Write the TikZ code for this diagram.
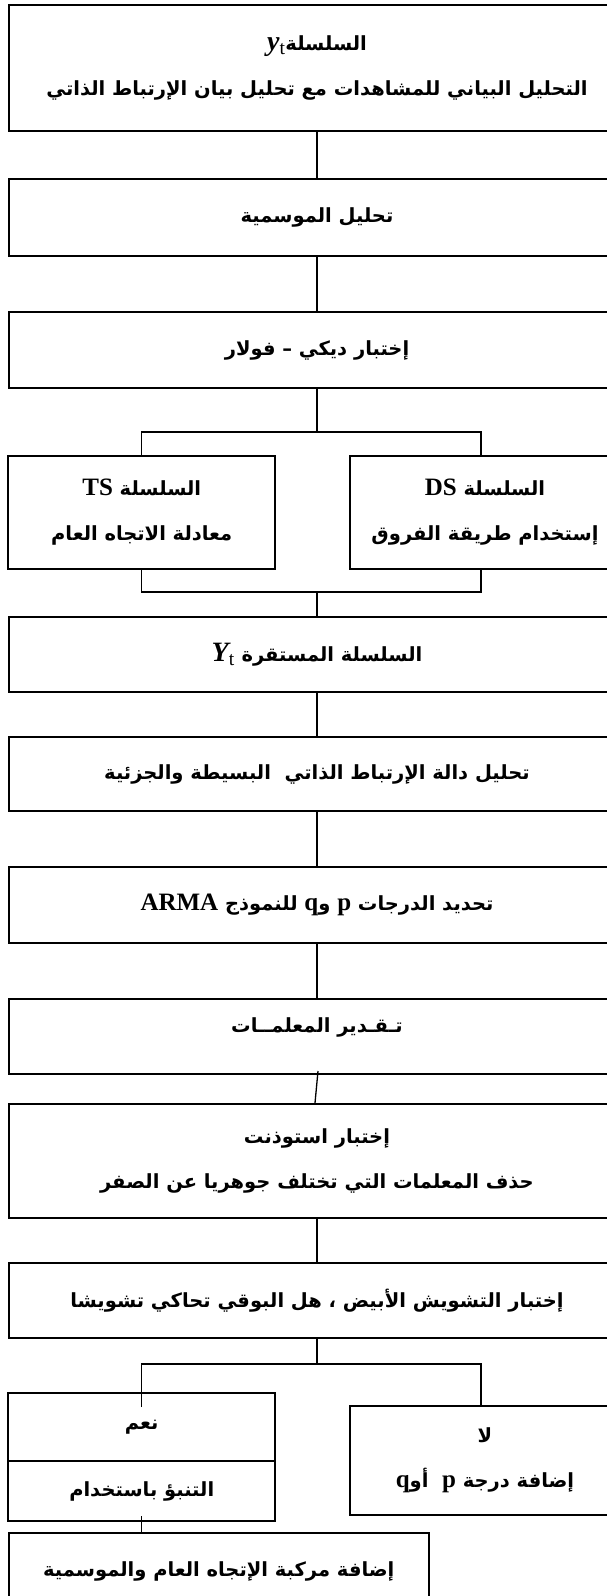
\documentclass[tikz,border=0pt]{standalone}
\usepackage{fontspec}
\newfontfamily\arfont[Script=Arabic]{DejaVu Sans}
\newfontfamily\latinfont{Liberation Serif}
\TeXXeTstate=1
\newcommand\arline[1]{\beginR #1\endR}
\newcommand\lat[1]{\beginL{\latinfont\bfseries\fontsize{25}{30}\selectfont #1}\endL}
\newcommand\Ysub[1]{\beginL{\latinfont\bfseries\itshape\fontsize{28}{30}\selectfont #1\textsubscript{\mdseries\upshape t}}\endL}
\begin{document}
\begin{tikzpicture}[x=1pt,y=-1pt,
    box/.style={draw, line width=2pt, inner sep=0pt, align=center, font=\arfont\bfseries\fontsize{19.5}{45}\selectfont},
    wide/.style={box, minimum width=617pt},
    half/.style={box, minimum width=267pt},
    high/.style={execute at end node={\rule[-22pt]{0pt}{22pt}}},
    link/.style={line width=1.3pt}]
    \useasboundingbox (0,0) rectangle (606,1596);
    \node[wide, minimum height=126pt] (Y) at (317,68) {\arline{السلسلة\Ysub{y}}\\ \arline{التحليل البياني للمشاهدات مع تحليل بيان الإرتباط الذاتي}};
    \node[wide, minimum height=77pt] (S) at (317,217.5) {\arline{تحليل الموسمية}};
    \node[wide, minimum height=76pt] (DF) at (317,350) {\arline{إختبار ديكي – فولار}};
    \node[half, minimum height=113pt] (TS) at (141.75,512.5) {\arline{السلسلة \lat{TS}}\\ \arline{معادلة الاتجاه العام}};
    \node[half, minimum width=270pt, minimum height=113pt] (DS) at (485,512.5) {\arline{السلسلة \lat{DS}}\\ \arline{إستخدام طريقة الفروق}};
    \node[wide, minimum height=75pt] (Yt) at (317,654.5) {\arline{السلسلة المستقرة \Ysub{Y}}};
    \node[wide, minimum height=74pt] (ACF) at (317,774) {\arline{تحليل دالة الإرتباط الذاتي\ \ البسيطة والجزئية}};
    \node[wide, minimum height=76pt] (ARMA) at (317,905) {\arline{تحديد الدرجات \lat{p} و\lat{q} للنموذج \lat{ARMA}}};
    \node[wide, high, minimum height=75pt] (E) at (317,1036.5) {\arline{تـقـدير المعلمــات}};
    \node[wide, minimum height=114pt] (T) at (317,1161) {\arline{إختبار استوذنت}\\ \arline{حذف المعلمات التي تختلف جوهريا عن الصفر}};
    \node[wide, minimum height=75pt] (W) at (317,1300.5) {\arline{إختبار التشويش الأبيض ، هل البوقي تحاكي تشويشا}};
    \node[half, minimum height=68pt] (yes) at (141.75,1427) {\arline{نعم}};
    \node[half, minimum height=60pt] (F) at (141.75,1491) {\arline{التنبؤ باستخدام}};
    \node[half, minimum width=270pt, minimum height=109pt] (no) at (485,1460.5) {\arline{لا}\\ \arline{إضافة درجة \lat{p}\ \ أو\lat{q}}};
    \node[box, minimum width=420.5pt, minimum height=77pt] (TC) at (218.75,1571.5) {\arline{إضافة مركبة الإتجاه العام والموسمية}};

    \coordinate (j1) at (317,432);
    \coordinate (j2) at (317,592);
    \coordinate (j3) at (317,1364);
    \coordinate (yin) at (141.75,1407);
    \coordinate (dsin) at (481,456);
    \coordinate (dsout) at (481,569);
    \coordinate (noin) at (481,1406);

    \draw[link] (Y) -- (S); \draw[link] (S) -- (DF); \draw[link] (DF) -- (j1); \draw[link] (TS.north) |- (j1) -| (dsin);
    \draw[link] (TS.south) |- (j2) -| (dsout); \draw[link] (j2) -- (Yt); \draw[link] (Yt) -- (ACF); \draw[link] (ACF) -- (ARMA); \draw[link] (ARMA) -- (E);
    \draw[link] ([xshift=1pt,yshift=4pt]E.south) -- ([xshift=-2pt]T.north); \draw[link] (T) -- (W); \draw[link] (W) -- (j3); \draw[link] (yin) |- (j3) -| (noin);
    \draw[link] ([yshift=6pt]F.south) -- (F.south |- TC.north);
\end{tikzpicture}
\end{document}
